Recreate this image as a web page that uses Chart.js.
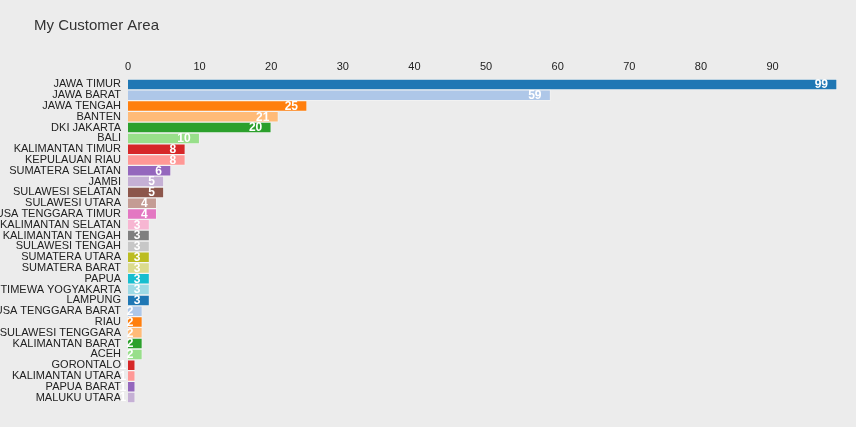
<!DOCTYPE html>
<html>
<head>
<meta charset="utf-8">
<script src="https://cdn.jsdelivr.net/npm/chart.js@4/dist/chart.umd.min.js"></script>
<style>
html,body{margin:0;padding:0;background:#ececec;}
#wrap{width:856px;height:427px;position:relative;}
</style>
</head>
<body>
<div id="wrap"><canvas id="c" width="856" height="427"></canvas></div>
<script>
const categories = ["JAWA TIMUR","JAWA BARAT","JAWA TENGAH","BANTEN","DKI JAKARTA","BALI","KALIMANTAN TIMUR","KEPULAUAN RIAU","SUMATERA SELATAN","JAMBI","SULAWESI SELATAN","SULAWESI UTARA","NUSA TENGGARA TIMUR","KALIMANTAN SELATAN","KALIMANTAN TENGAH","SULAWESI TENGAH","SUMATERA UTARA","SUMATERA BARAT","PAPUA","DAERAH ISTIMEWA YOGYAKARTA","LAMPUNG","NUSA TENGGARA BARAT","RIAU","SULAWESI TENGGARA","KALIMANTAN BARAT","ACEH","GORONTALO","KALIMANTAN UTARA","PAPUA BARAT","MALUKU UTARA"];
const customers = [99,59,25,21,20,10,8,8,6,5,5,4,4,3,3,3,3,3,3,3,3,2,2,2,2,2,1,1,1,1];
const tickValues = [0,10,20,30,40,50,60,70,80,90];
const palette = ["#1f77b4","#aec7e8","#ff7f0e","#ffbb78","#2ca02c","#98df8a","#d62728","#ff9896","#9467bd","#c5b0d5","#8c564b","#c49c94","#e377c2","#f7b6d2","#7f7f7f","#c7c7c7","#bcbd22","#dbdb8d","#17becf","#9edae5"];
const titleText = "My Customer Area";

const bgPlugin = {
  id:'bg',
  beforeDraw(chart){
    const ctx = chart.ctx;
    ctx.save();
    ctx.fillStyle = '#ececec';
    ctx.fillRect(0,0,chart.width,chart.height);
    ctx.fillStyle = '#333333';
    ctx.font = '15px "Liberation Sans", Arial, sans-serif';
    ctx.textBaseline = 'alphabetic';
    ctx.textAlign = 'left';
    ctx.fillText(titleText, 34, 30);
    ctx.restore();
  }
};
const labelPlugin = {
  id:'vals',
  afterDatasetsDraw(chart){
    const ctx = chart.ctx;
    const meta = chart.getDatasetMeta(0);
    ctx.save();
    ctx.fillStyle = '#ffffff';
    ctx.font = 'bold 12px "Liberation Sans", Arial, sans-serif';
    ctx.textAlign = 'right';
    ctx.textBaseline = 'middle';
    meta.data.forEach((bar,i)=>{
      ctx.fillText(String(customers[i]), bar.x - 9, bar.y + 0.5);
    });
    ctx.restore();
  }
};

new Chart(document.getElementById('c'), {
  type:'bar',
  data:{
    labels:categories,
    datasets:[{
      data:customers,
      backgroundColor:customers.map((v,i)=>palette[i%palette.length]),
      borderColor:'rgba(255,255,255,0.3)',
      borderWidth:1,
      barPercentage:1,
      categoryPercentage:1
    }]
  },
  options:{
    indexAxis:'y',
    responsive:false,
    animation:false,
    layout:{padding:{top:49,right:19,bottom:24,left:0}},
    plugins:{legend:{display:false},tooltip:{enabled:false},title:{display:false}},
    scales:{
      x:{
        position:'top',
        min:0,max:99,
        grid:{display:false,drawTicks:false},
        border:{display:false},
        afterBuildTicks(scale){ scale.ticks = tickValues.map(v=>({value:v})); },
        afterFit(scale){ scale.height = 30; },
        ticks:{color:'#222222',font:{family:'"Liberation Sans", Arial, sans-serif',size:11},padding:5,maxRotation:0}
      },
      y:{
        grid:{display:false,drawTicks:false},
        border:{display:false},
        afterFit(scale){ scale.width = 128; },
        ticks:{color:'#222222',font:{family:'"Liberation Sans", Arial, sans-serif',size:11},padding:7,autoSkip:false}
      }
    }
  },
  plugins:[bgPlugin,labelPlugin]
});
</script>
</body>
</html>
